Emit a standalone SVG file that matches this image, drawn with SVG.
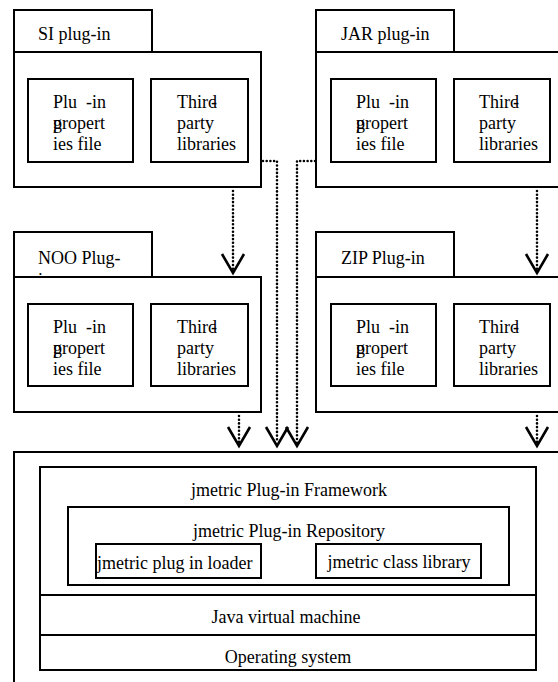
<svg xmlns="http://www.w3.org/2000/svg" width="558" height="682" viewBox="0 0 558 682">
<style>
.box{fill:#fff;stroke:#000;stroke-width:2}
.t{font-family:"Liberation Serif","Times New Roman",serif;font-size:18px;fill:#000}
.m{text-anchor:middle}
.dot{fill:none;stroke:#000;stroke-width:2.6;stroke-linecap:round;stroke-dasharray:0 3.7}
.chev{fill:none;stroke:#000;stroke-width:2.6;stroke-linejoin:miter}
</style>
<rect width="558" height="682" fill="#fff"/>
<g id="si-plugin">
  <rect class="box" x="14" y="10" width="138" height="42"/>
  <text class="t" x="38" y="40">SI plug-in</text>
  <rect class="box" x="14" y="52" width="247" height="135"/>
  <rect class="box" x="28" y="79" width="105" height="83"/>
  <text class="t" x="53" y="108">Plu</text><text class="t" x="86" y="108">-in</text>
  <text class="t" x="53" y="129">g</text><text class="t" x="53" y="129">propert</text>
  <text class="t" x="53" y="150">ies file</text>
  <rect class="box" x="151" y="79" width="97" height="83"/>
  <text class="t" x="177" y="108">Third</text><text class="t" x="211" y="108">-</text>
  <text class="t" x="177" y="129">party</text>
  <text class="t" x="177" y="150">libraries</text>
</g>
<g id="jar-plugin">
  <rect class="box" x="316" y="10" width="138" height="42"/>
  <text class="t" x="341" y="40">JAR plug-in</text>
  <rect class="box" x="316" y="52" width="300" height="135"/>
  <rect class="box" x="331" y="79" width="105" height="83"/>
  <text class="t" x="356" y="108">Plu</text><text class="t" x="389" y="108">-in</text>
  <text class="t" x="356" y="129">g</text><text class="t" x="356" y="129">propert</text>
  <text class="t" x="356" y="150">ies file</text>
  <rect class="box" x="454" y="79" width="96" height="83"/>
  <text class="t" x="479" y="108">Third</text><text class="t" x="513" y="108">-</text>
  <text class="t" x="479" y="129">party</text>
  <text class="t" x="479" y="150">libraries</text>
</g>
<g id="noo-plugin">
  <rect class="box" x="14" y="232" width="138" height="45"/>
  <text class="t" x="38" y="264">NOO Plug-</text>
  <text class="t" x="38" y="286">in</text>
  <rect class="box" x="14" y="277" width="247" height="135"/>
  <rect class="box" x="28" y="304" width="105" height="82"/>
  <text class="t" x="53" y="333">Plu</text><text class="t" x="86" y="333">-in</text>
  <text class="t" x="53" y="354">g</text><text class="t" x="53" y="354">propert</text>
  <text class="t" x="53" y="375">ies file</text>
  <rect class="box" x="151" y="304" width="97" height="82"/>
  <text class="t" x="177" y="333">Third</text><text class="t" x="211" y="333">-</text>
  <text class="t" x="177" y="354">party</text>
  <text class="t" x="177" y="375">libraries</text>
</g>
<g id="zip-plugin">
  <rect class="box" x="316" y="232" width="138" height="45"/>
  <text class="t" x="341" y="264">ZIP Plug-in</text>
  <rect class="box" x="316" y="277" width="300" height="135"/>
  <rect class="box" x="331" y="304" width="105" height="82"/>
  <text class="t" x="356" y="333">Plu</text><text class="t" x="389" y="333">-in</text>
  <text class="t" x="356" y="354">g</text><text class="t" x="356" y="354">propert</text>
  <text class="t" x="356" y="375">ies file</text>
  <rect class="box" x="454" y="304" width="96" height="82"/>
  <text class="t" x="479" y="333">Third</text><text class="t" x="513" y="333">-</text>
  <text class="t" x="479" y="354">party</text>
  <text class="t" x="479" y="375">libraries</text>
</g>
<g id="platform">
  <rect class="box" x="14" y="452" width="620" height="300"/>
</g>
<g id="framework">
  <rect class="box" x="40" y="467" width="496" height="128"/>
  <text class="t m" x="289" y="496">jmetric Plug-in Framework</text>
</g>
<g id="repository">
  <rect class="box" x="68" y="507" width="441" height="78"/>
  <text class="t m" x="289" y="537">jmetric Plug-in Repository</text>
</g>
<g id="loader">
  <rect class="box" x="96" y="544" width="165" height="34"/>
  <text class="t" x="97" y="569">jmetric plug in loader</text>
</g>
<g id="class-library">
  <rect class="box" x="316" y="544" width="165" height="34"/>
  <text class="t m" x="399" y="568">jmetric class library</text>
</g>
<g id="jvm">
  <rect class="box" x="40" y="595" width="496" height="40"/>
  <text class="t m" x="286" y="623">Java virtual machine</text>
</g>
<g id="os">
  <rect class="box" x="40" y="635" width="496" height="35"/>
  <text class="t m" x="288" y="663">Operating system</text>
</g>
<g id="connectors">
  <path class="dot" d="M233 191 V270"/>
  <polyline class="chev" points="222,254 233,273 244,254"/>
  <path class="dot" d="M537 191 V270"/>
  <polyline class="chev" points="526,254 537,273 548,254"/>
  <path class="dot" d="M239 416 V443"/>
  <polyline class="chev" points="228,427 239,446 250,427"/>
  <path class="dot" d="M537 416 V443"/>
  <polyline class="chev" points="526,427 537,446 548,427"/>
  <path class="dot" d="M263 161 H277 V443"/>
  <polyline class="chev" points="266,427 277,446 288,427"/>
  <path class="dot" d="M315 161 H297 V443"/>
  <polyline class="chev" points="286,427 297,446 308,427"/>
</g>
</svg>
